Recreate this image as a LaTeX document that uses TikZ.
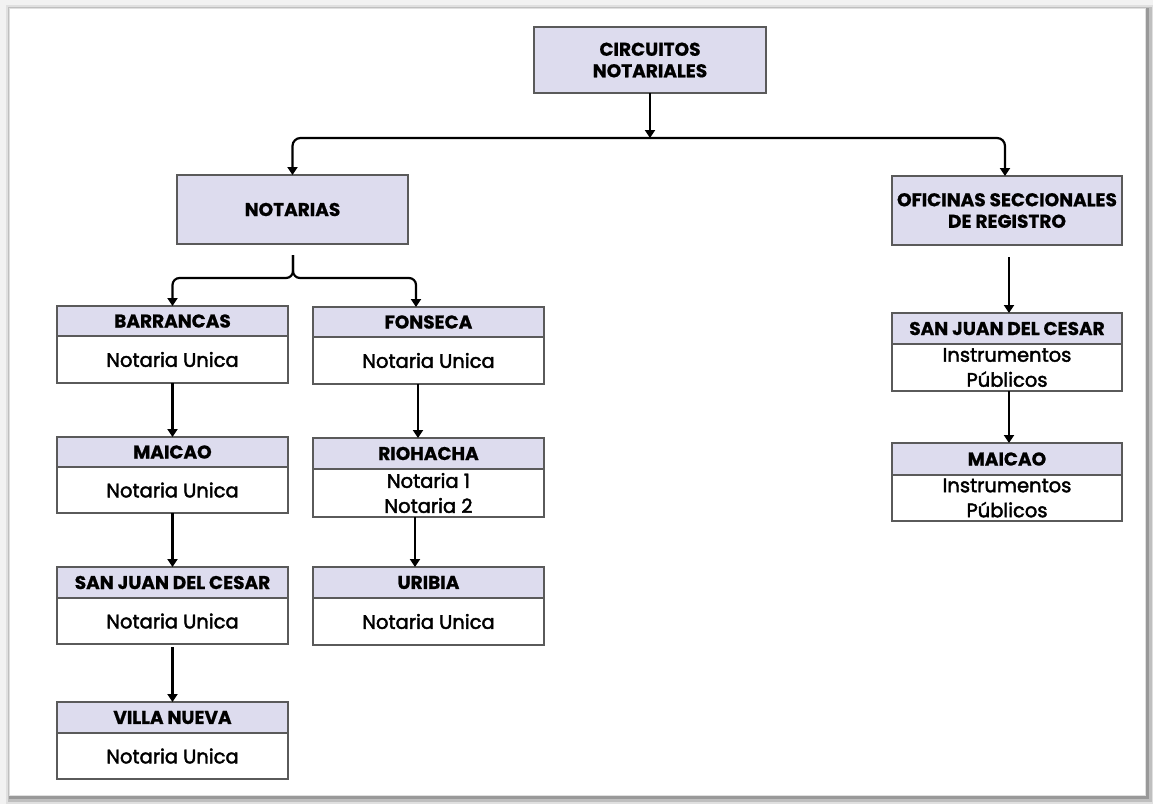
\documentclass[tikz,border=0pt]{standalone}
\usepackage{fontspec}
\setmainfont{Poppins}
\newfontfamily\bodyfont[FakeBold=2.2]{Poppins}
\newfontfamily\hdrfont[FakeBold=0.8]{Poppins}
\usetikzlibrary{arrows.meta}
\definecolor{hdrfill}{HTML}{DDDCEE}
\definecolor{boxline}{HTML}{5A5A5A}
\tikzset{
  every node/.style={inner sep=0pt, outer sep=0pt},
  mainbox/.style={draw=boxline, line width=1.6pt, fill=hdrfill, align=center,
    font=\hdrfont\fontsize{18.5}{21.5}\selectfont\bfseries},
  hdr/.style={draw=boxline, line width=1.6pt, fill=hdrfill, anchor=north, minimum width=231pt,
    font=\hdrfont\fontsize{18.5}{21}\selectfont\bfseries},
  bodyb/.style={draw=boxline, line width=1.6pt, fill=white, anchor=north, minimum width=231pt, align=center,
    font=\bodyfont\fontsize{19.5}{25}\selectfont},
  arr/.style={draw=black, line width=2.2pt, -{Triangle[length=8pt,width=10pt]}},
}
\begin{document}
\begin{tikzpicture}[x=1pt, y=-1pt]
\useasboundingbox (0,0) rectangle (1153,804);
% frame and shadow
\fill[black!5] (0,0) rectangle (1153,804);
\fill[black!12] (6,5) rectangle (1153,804);
\fill[black!25] (8,7) rectangle (1152,802);
\fill[black!40] (9,8) rectangle (1149,799);
\fill[white] (9,8) rectangle (1145,795);
\draw[black!12, line width=0.8pt] (9.5,8.5) rectangle (1145,795);

% main boxes
\node[mainbox, minimum width=232pt, minimum height=66pt] (circ) at (650,60) {CIRCUITOS\\NOTARIALES};
\node[mainbox, minimum width=231pt, minimum height=69pt] (not) at (292.5,209.5) {NOTARIAS};
\node[mainbox, minimum width=230pt, minimum height=69pt] (ofi) at (1007,210.5) {OFICINAS SECCIONALES\\DE REGISTRO};

% left column
\node[hdr, minimum height=30pt] (barr-h) at (172.5,306) {BARRANCAS};
\node[bodyb, minimum height=47pt] (barr-b) at (barr-h.south) {Notaria Unica};
\node[hdr, minimum height=30pt] (maic-h) at (172.5,437) {MAICAO};
\node[bodyb, minimum height=46pt] (maic-b) at (maic-h.south) {Notaria Unica};
\node[hdr, minimum height=31pt] (sjl-h) at (172.5,567) {SAN JUAN DEL CESAR};
\node[bodyb, minimum height=46pt] (sjl-b) at (sjl-h.south) {Notaria Unica};
\node[hdr, minimum height=31pt] (vill-h) at (172.5,702) {VILLA NUEVA};
\node[bodyb, minimum height=46pt] (vill-b) at (vill-h.south) {Notaria Unica};

% middle column
\node[hdr, minimum height=30pt] (fons-h) at (428.5,307) {FONSECA};
\node[bodyb, minimum height=47pt] (fons-b) at (fons-h.south) {Notaria Unica};
\node[hdr, minimum height=31pt] (rioh-h) at (428.5,438) {RIOHACHA};
\node[bodyb, minimum height=48pt] (rioh-b) at (rioh-h.south) {Notaria 1\\Notaria 2};
\node[hdr, minimum height=31pt] (urib-h) at (428.5,567) {URIBIA};
\node[bodyb, minimum height=47pt] (urib-b) at (urib-h.south) {Notaria Unica};

% right column
\node[hdr, minimum width=230pt, minimum height=31pt] (sjr-h) at (1007,313) {SAN JUAN DEL CESAR};
\node[bodyb, minimum width=230pt, minimum height=47pt] (sjr-b) at (sjr-h.south) {Instrumentos\\Públicos};
\node[hdr, minimum width=230pt, minimum height=32pt] (maicr-h) at (1007,443) {MAICAO};
\node[bodyb, minimum width=230pt, minimum height=46pt] (maicr-b) at (maicr-h.south) {Instrumentos\\Públicos};

% junction coordinates
\coordinate (j1) at (650,138);
\coordinate (j2top) at (293,255);
\coordinate (j2) at (293,278);
\coordinate (r1) at (1009,257);
\coordinate (l3) at (172.5,647);

% connectors
\draw[arr] (circ.south) -- (j1);
\draw[arr, rounded corners=8pt] (j1) -| (not.north);
\draw[arr, rounded corners=8pt] (j1) -| ([xshift=-2pt]ofi.north);
\draw[arr, rounded corners=7pt] (j2top) -- (j2) -| (barr-h.north);
\draw[arr, rounded corners=7pt] (j2top) -- (j2) -| ([xshift=-12.5pt]fons-h.north);
\draw[arr] (barr-b.south) -- (maic-h.north);
\draw[arr] (maic-b.south) -- (sjl-h.north);
\draw[arr] (l3) -- (vill-h.north);
\draw[arr] ([xshift=-10.5pt]fons-b.south) -- ([xshift=-10.5pt]rioh-h.north);
\draw[arr] ([xshift=-13.5pt]rioh-b.south) -- ([xshift=-13.5pt]urib-h.north);
\draw[arr] (r1) -- ([xshift=2pt]sjr-h.north);
\draw[arr] ([xshift=2pt]sjr-b.south) -- ([xshift=2pt]maicr-h.north);
\end{tikzpicture}
\end{document}
